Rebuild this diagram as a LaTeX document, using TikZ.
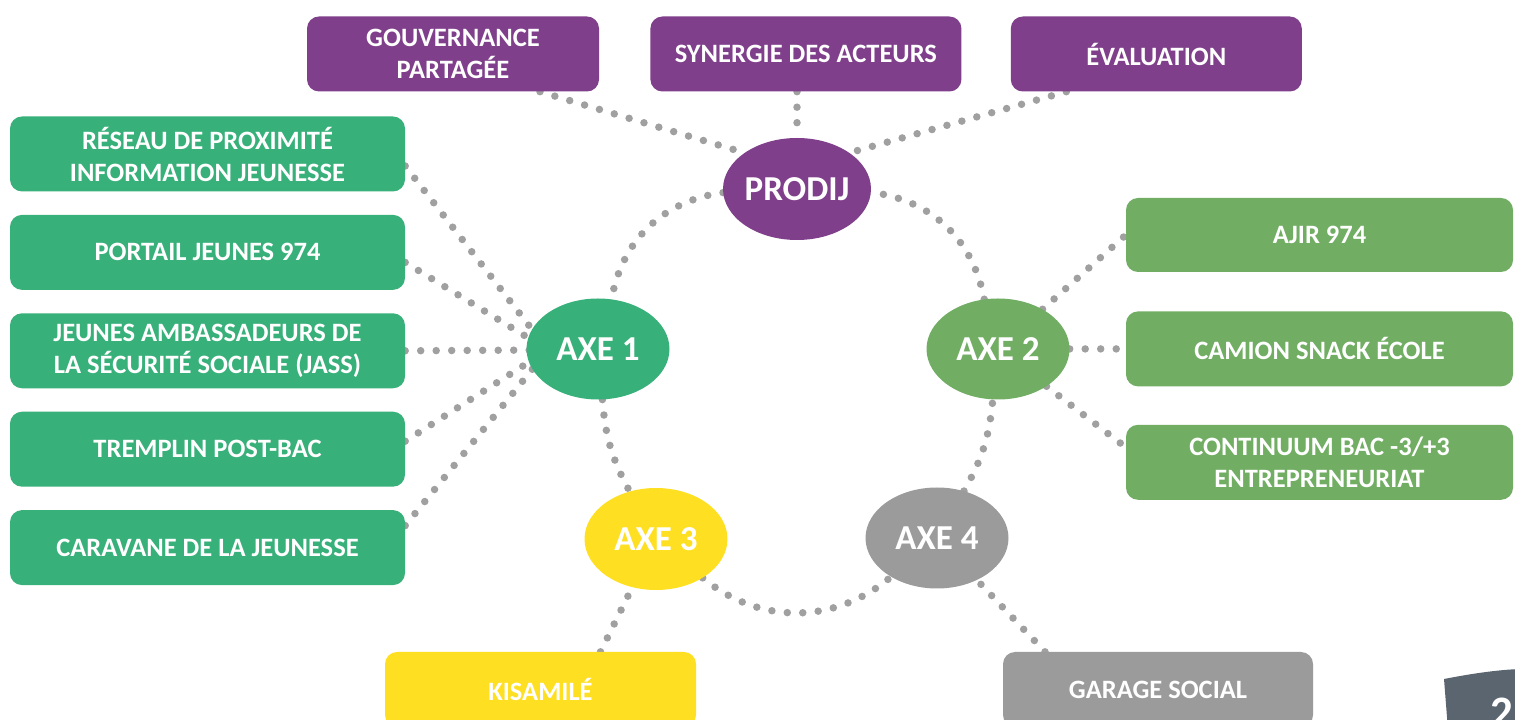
\documentclass[tikz,border=0pt]{standalone}
\usepackage{fontspec}
\setmainfont{Carlito}
\usetikzlibrary{shapes,positioning,backgrounds}

\definecolor{prodijPurple}{HTML}{7F3F8B}
\definecolor{axeOneGreen}{HTML}{38B07A}
\definecolor{axeTwoGreen}{HTML}{71AD63}
\definecolor{axeThreeYellow}{HTML}{FFDF21}
\definecolor{axeFourGray}{HTML}{9B9B9B}
\definecolor{dotGray}{HTML}{A0A0A0}
\definecolor{badgeGray}{HTML}{5A6570}

\begin{document}
\begin{tikzpicture}[x=1pt,y=1pt,
    box/.style={rounded corners=12pt,minimum height=75pt,inner sep=0pt,align=center,
        text=white,font=\fontsize{26.5}{32}\selectfont\bfseries},
    axe/.style={ellipse,minimum width=143pt,minimum height=101pt,inner sep=0pt,
        text=white,font=\fontsize{35}{40}\selectfont\bfseries},
    dots/.style={draw=dotGray,line width=7.5pt,line cap=round,dash pattern=on 0pt off 15.5pt}]
        \useasboundingbox (0,0) rectangle (1515,720);

        % top row
        \node[box,fill=prodijPurple,minimum width=292pt] (gouvernance) at (453,666)
            {GOUVERNANCE\\PARTAGÉE};

        \node[box,fill=prodijPurple,minimum width=311pt] (synergie) [right=51pt of gouvernance]
            {SYNERGIE DES ACTEURS};

        \node[box,fill=prodijPurple,minimum width=291pt] (evaluation) [right=49pt of synergie]
            {ÉVALUATION};

        \node[axe,fill=prodijPurple,minimum width=145pt,minimum height=102pt] (prodij) at (797,531)
            {PRODIJ};

        % axe 1
        \node[axe,fill=axeOneGreen] (axe1) at (598,371)
            {AXE 1};

        \node[box,fill=axeOneGreen,minimum width=395pt] (reseau) at (207.5,566)
            {RÉSEAU DE PROXIMITÉ\\INFORMATION JEUNESSE};

        \node[box,fill=axeOneGreen,minimum width=395pt] (portail) [below=23pt of reseau]
            {PORTAIL JEUNES 974};

        \node[box,fill=axeOneGreen,minimum width=395pt] (jass) [below=23pt of portail]
            {JEUNES AMBASSADEURS DE\\LA SÉCURITÉ SOCIALE (JASS)};

        \node[box,fill=axeOneGreen,minimum width=395pt] (tremplin) [below=23pt of jass]
            {TREMPLIN POST-BAC};

        \node[box,fill=axeOneGreen,minimum width=395pt] (caravane) [below=23pt of tremplin]
            {CARAVANE DE LA JEUNESSE};

        \coordinate (hub1) at (548,370);

        % axe 2
        \node[axe,fill=axeTwoGreen] (axe2) at (998,371)
            {AXE 2};

        \node[box,fill=axeTwoGreen,minimum width=387pt,minimum height=74pt] (ajir) at (1319.5,485)
            {AJIR 974};

        \node[box,fill=axeTwoGreen,minimum width=387pt] (camion) [below=39pt of ajir]
            {CAMION SNACK ÉCOLE};

        \node[box,fill=axeTwoGreen,minimum width=387pt] (continuum) [below=38pt of camion]
            {CONTINUUM BAC -3/+3\\ENTREPRENEURIAT};

        % axes 3 and 4
        \node[axe,fill=axeThreeYellow,minimum height=102pt] (axe3) at (656,181)
            {AXE 3};

        \node[axe,fill=axeFourGray] (axe4) at (937,182)
            {AXE 4};

        \node[box,fill=axeThreeYellow,minimum width=311pt] (kisamile) at (540.5,30.5)
            {KISAMILÉ};

        \node[box,fill=axeFourGray,minimum width=310pt] (garage) at (1158,30.5)
            {GARAGE SOCIAL};

        % page badge
        \fill[badgeGray] (1444,41) .. controls (1470,46) and (1495,50) .. (1520,51)
            -- (1520,-10) -- (1448,-10) -- cycle;
        \node[anchor=base west,inner sep=0pt,text=white,font=\fontsize{45}{50}\selectfont\bfseries] (pagenum) at (1490,-8)
            {2};

        \begin{scope}[on background layer]
        \path[dots]
        ([xshift=87pt]gouvernance.south)    edge (prodij.north west)
        (prodij.north |- synergie.south)    edge (prodij.north)
        ([xshift=-90pt]evaluation.south)    edge (prodij.north east)
        (prodij)     edge[bend right=36]    (axe1)
        (axe1)       edge[bend right=12]    (axe3)
        (axe3)       edge[bend right=40]    (axe4)
        (axe4)       edge[bend right=12]    (axe2)
        (axe2)       edge[bend right=36]    (prodij)
        ([yshift=-12pt]reseau.east)         edge (hub1)
        ([yshift=-10pt]portail.east)        edge (hub1)
        (jass.east)                         edge (hub1)
        ([yshift=8pt]tremplin.east)         edge (hub1)
        ([yshift=22pt]caravane.east)        edge (hub1)
        (axe2)       edge                   (ajir.west)
        (axe2)       edge                   (camion.west)
        (axe2)       edge                   ([yshift=15pt]continuum.west)
        ([xshift=60pt]kisamile.north)       edge (axe3)
        ([xshift=-113pt]garage.north)       edge (axe4)
        ;
        \end{scope}
    \end{tikzpicture}
\end{document}
